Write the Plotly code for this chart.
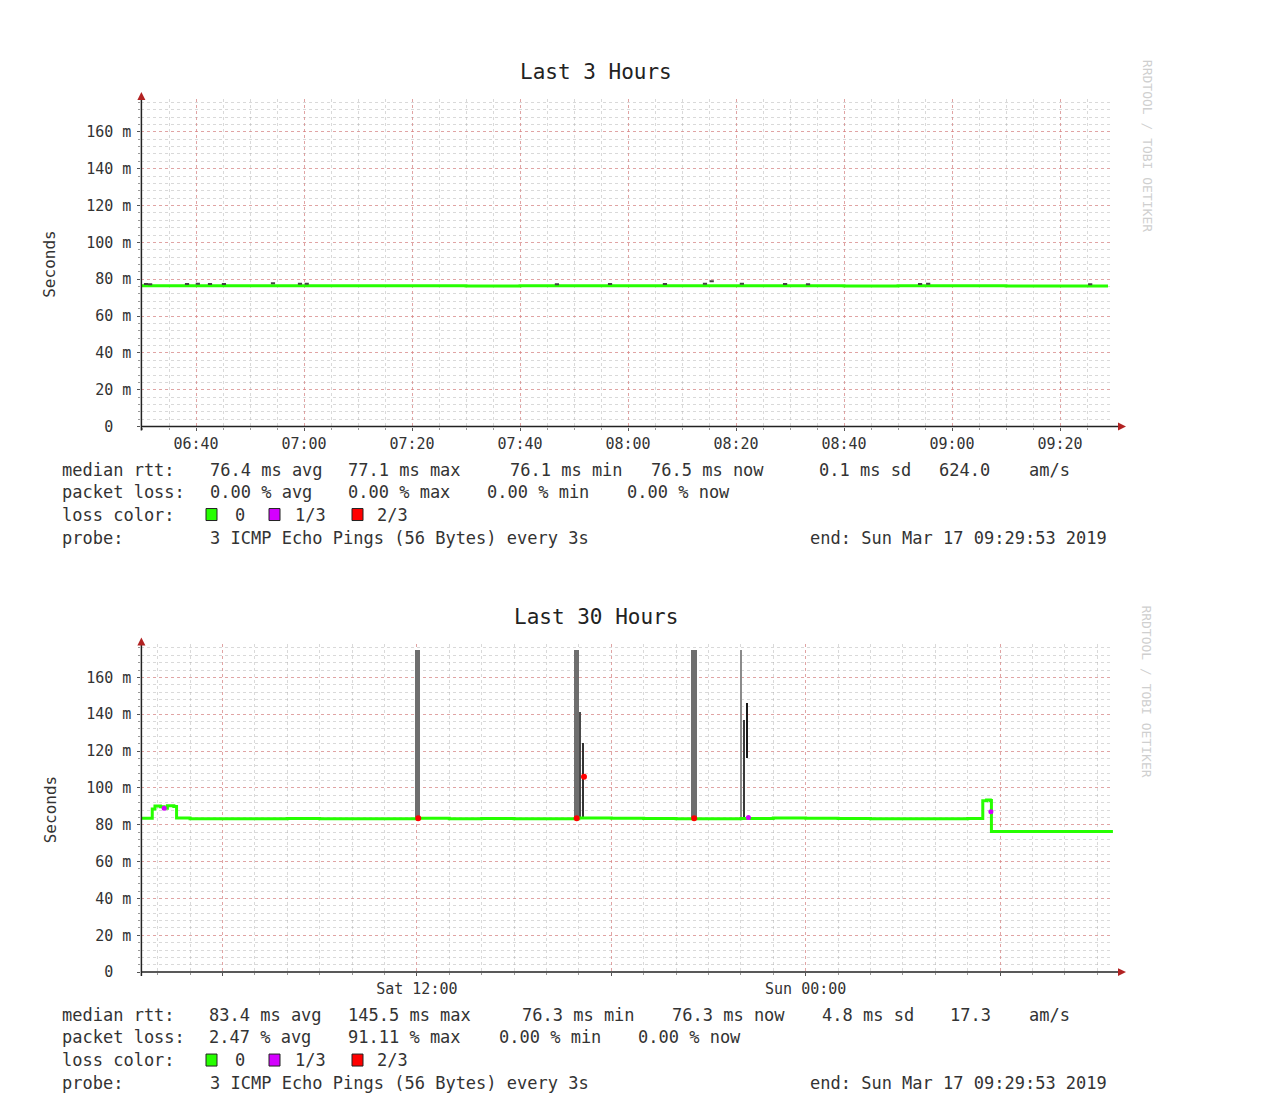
import plotly.graph_objects as go

# ---- data ----
# Last 3 Hours: median rtt (ms), step line
top_times = ["2019-03-17 06:29:53", "2019-03-17 06:40", "2019-03-17 06:50", "2019-03-17 07:00",
             "2019-03-17 07:10", "2019-03-17 07:20", "2019-03-17 07:30", "2019-03-17 07:40",
             "2019-03-17 07:50", "2019-03-17 08:00", "2019-03-17 08:10", "2019-03-17 08:20",
             "2019-03-17 08:30", "2019-03-17 08:40", "2019-03-17 08:50", "2019-03-17 09:00",
             "2019-03-17 09:10", "2019-03-17 09:20", "2019-03-17 09:28:53"]
top_rtt = [76.5, 76.4, 76.4, 76.5, 76.4, 76.4, 76.3, 76.4, 76.4, 76.4,
           76.5, 76.4, 76.4, 76.3, 76.4, 76.4, 76.3, 76.3, 76.3]

# small smoke marks just above the median line
top_smoke_times = ["2019-03-17 06:30:44", "2019-03-17 06:31:30", "2019-03-17 06:38:20",
                   "2019-03-17 06:40:20", "2019-03-17 06:42:35", "2019-03-17 06:45:10",
                   "2019-03-17 06:54:15", "2019-03-17 06:59:15", "2019-03-17 07:00:30",
                   "2019-03-17 07:46:50", "2019-03-17 07:56:40", "2019-03-17 08:06:50",
                   "2019-03-17 08:14:15", "2019-03-17 08:15:30", "2019-03-17 08:21:05",
                   "2019-03-17 08:29:05", "2019-03-17 08:33:20", "2019-03-17 08:54:05",
                   "2019-03-17 08:55:35", "2019-03-17 09:25:35"]
top_smoke = [77.4, 77.3, 77.4, 77.5, 77.4, 77.4, 77.8, 77.6, 77.5, 77.3,
             77.4, 77.4, 77.6, 78.9, 77.5, 77.4, 77.3, 77.4, 77.6, 77.3]

# Last 30 Hours: median rtt (ms), step line
bot_times = ["2019-03-16 03:29:53", "2019-03-16 03:45", "2019-03-16 03:50", "2019-03-16 03:55",
             "2019-03-16 04:05", "2019-03-16 04:12", "2019-03-16 04:18", "2019-03-16 04:30",
             "2019-03-16 04:35", "2019-03-16 05:00", "2019-03-16 06:00", "2019-03-16 07:00",
             "2019-03-16 08:00", "2019-03-16 09:00", "2019-03-16 10:00", "2019-03-16 11:00",
             "2019-03-16 12:00", "2019-03-16 13:00", "2019-03-16 14:00", "2019-03-16 15:00",
             "2019-03-16 16:00", "2019-03-16 17:00", "2019-03-16 18:00", "2019-03-16 19:00",
             "2019-03-16 20:00", "2019-03-16 21:00", "2019-03-16 22:00", "2019-03-16 23:00",
             "2019-03-17 00:00", "2019-03-17 01:00", "2019-03-17 02:00", "2019-03-17 03:00",
             "2019-03-17 04:00", "2019-03-17 05:00", "2019-03-17 05:27", "2019-03-17 05:28",
             "2019-03-17 05:35", "2019-03-17 05:42", "2019-03-17 05:44", "2019-03-17 06:00",
             "2019-03-17 07:00", "2019-03-17 08:00", "2019-03-17 09:00", "2019-03-17 09:29"]
bot_rtt = [83.5, 83.5, 88.6, 90.2, 89.8, 89.0, 90.3, 89.9, 83.6, 83.3, 83.2, 83.3,
           83.4, 83.2, 83.3, 83.3, 83.5, 83.3, 83.4, 83.2, 83.3, 83.6, 83.5, 83.4,
           83.3, 83.2, 83.4, 83.6, 83.5, 83.4, 83.3, 83.3, 83.2, 83.4, 83.4, 93.0,
           93.5, 93.2, 76.4, 76.3, 76.4, 76.3, 76.3, 76.3]

# smoke columns (tall ones run past the top of the graph)
spike_times = ["2019-03-16 12:02:30", "2019-03-16 16:56:00", "2019-03-16 17:03:00",
               "2019-03-16 17:08:30", "2019-03-16 20:33:30", "2019-03-16 22:02:00",
               "2019-03-16 22:06:30", "2019-03-16 22:12:00"]
spike_lo = [83.5, 83.5, 83.5, 83.5, 83.5, 83.5, 83.5, 116.0]
spike_hi = [175.0, 175.0, 141.0, 124.0, 175.0, 175.0, 137.0, 146.0]
spike_minutes = [9, 9, 4, 2, 10.5, 2.5, 2, 4]

# loss markers (2/3 = red, 1/3 = magenta)
loss23_times = ["2019-03-16 12:02:30", "2019-03-16 16:56:00", "2019-03-16 17:09:30",
                "2019-03-16 20:33:30"]
loss23_vals = [83.5, 83.5, 106.0, 83.5]
loss13_times = ["2019-03-16 04:12", "2019-03-16 22:14", "2019-03-17 05:43"]
loss13_vals = [89.0, 84.0, 87.0]

# ---- text ----
y_ticks = [0, 20, 40, 60, 80, 100, 120, 140, 160]
y_ticktext = ["0\u00a0\u00a0", "20 m", "40 m", "60 m", "80 m", "100 m", "120 m", "140 m", "160 m"]
top_ticks = ["2019-03-17 06:40", "2019-03-17 07:00", "2019-03-17 07:20", "2019-03-17 07:40",
             "2019-03-17 08:00", "2019-03-17 08:20", "2019-03-17 08:40", "2019-03-17 09:00",
             "2019-03-17 09:20"]
top_ticktext = ["06:40", "07:00", "07:20", "07:40", "08:00", "08:20", "08:40", "09:00", "09:20"]
bot_ticks = ["2019-03-16 06:00", "2019-03-16 12:00", "2019-03-16 18:00", "2019-03-17 00:00",
             "2019-03-17 06:00"]
bot_ticktext = ["", "Sat 12:00", "", "Sun 00:00", ""]

top_rtt_text = ["median rtt:", "76.4 ms avg", "77.1 ms max", "76.1 ms min", "76.5 ms now",
                "0.1 ms sd", "624.0", "am/s"]
top_loss_text = ["packet loss:", "0.00 % avg", "0.00 % max", "0.00 % min", "0.00 % now"]
bot_rtt_text = ["median rtt:", "83.4 ms avg", "145.5 ms max", "76.3 ms min", "76.3 ms now",
                "4.8 ms sd", "17.3", "am/s"]
bot_loss_text = ["packet loss:", "2.47 % avg", "91.11 % max", "0.00 % min", "0.00 % now"]
legend_text = ["loss color:", "0", "1/3", "2/3"]
probe_text = ["probe:", "3 ICMP Echo Pings (56 Bytes) every 3s", "end: Sun Mar 17 09:29:53 2019"]

# ---- layout helpers (pixel -> paper) ----
W = 1280
H = 1118      # figure height; the photo squeezes it to 1110
REF_H = 1110  # positions below are read in the 1110-high picture
def px(x):
    return x / W
def py(y):
    return 1 - y / REF_H

X0, X1 = 141.4, 1113.4
TOP = (98.8, 427.0)
BOT = (644.8, 973.0)
OFF = 546  # vertical offset of the second graph

GREEN = "#26ff00"
MAGENTA = "#d400ff"
RED = "#ff0000"
MONO = "DejaVu Sans Mono"
TXT = "#333333"
MAJ = "rgba(230,120,120,0.55)"
MIN = "rgba(170,170,170,0.45)"

fig = go.Figure()

# top graph
fig.add_trace(go.Scatter(x=top_times, y=top_rtt, mode="lines", line=dict(color=GREEN, width=3, shape="hv"),
                         xaxis="x", yaxis="y"))
fig.add_trace(go.Scatter(x=top_smoke_times, y=top_smoke, mode="markers",
                         marker=dict(symbol="line-ew", size=3, line=dict(color="#444", width=2)),
                         xaxis="x", yaxis="y"))

# bottom graph
fig.add_trace(go.Bar(x=spike_times, y=[h - l for h, l in zip(spike_hi, spike_lo)], base=spike_lo,
                     width=[m * 60000 for m in spike_minutes],
                     marker=dict(color=["#6e6e6e", "#6e6e6e", "#4a4a4a", "#333333", "#6e6e6e",
                                        "#8a8a8a", "#3a3a3a", "#1a1a1a"], line=dict(width=0)),
                     xaxis="x2", yaxis="y2"))
fig.add_trace(go.Scatter(x=bot_times, y=bot_rtt, mode="lines", line=dict(color=GREEN, width=3, shape="hv"),
                         xaxis="x2", yaxis="y2"))
fig.add_trace(go.Scatter(x=loss23_times, y=loss23_vals, mode="markers",
                         marker=dict(color=RED, size=6), xaxis="x2", yaxis="y2"))
fig.add_trace(go.Scatter(x=loss13_times, y=loss13_vals, mode="markers",
                         marker=dict(color=MAGENTA, size=5), xaxis="x2", yaxis="y2"))

yax = dict(range=[0, 178], tickvals=y_ticks, ticktext=y_ticktext, showgrid=True,
           gridcolor=MAJ, griddash="dot", gridwidth=1, zeroline=False, showline=False,
           ticks="outside", ticklen=3, tickcolor="#555", ticklabelstandoff=3,
           minor=dict(dtick=4, tick0=0, showgrid=True, gridcolor=MIN, griddash="dot",
                      ticks="outside", ticklen=2, tickcolor="#999"),
           tickfont=dict(family=MONO, size=15, color=TXT), fixedrange=True)

fig.update_layout(
    width=W, height=H, autosize=False,
    margin=dict(l=0, r=0, t=0, b=0),
    paper_bgcolor="white", plot_bgcolor="white",
    showlegend=False, bargap=0,
    xaxis=dict(domain=[px(X0), px(X1)], anchor="y",
               range=["2019-03-17 06:29:53", "2019-03-17 09:29:53"],
               tickvals=top_ticks, ticktext=top_ticktext, showgrid=True,
               gridcolor=MAJ, griddash="dot", zeroline=False, ticks="outside", ticklen=3,
               tickcolor="#555",
               minor=dict(dtick=300000, tick0="2019-03-17 06:35", showgrid=True, gridcolor=MIN,
                          griddash="dot", ticks="outside", ticklen=2, tickcolor="#999"),
               tickfont=dict(family=MONO, size=15, color=TXT)),
    yaxis=dict(domain=[py(TOP[1]), py(TOP[0])], anchor="x", **yax),
    xaxis2=dict(domain=[px(X0), px(X1)], anchor="y2",
                range=["2019-03-16 03:29:53", "2019-03-17 09:29:53"],
                tickvals=bot_ticks, ticktext=bot_ticktext, showgrid=True,
                gridcolor=MAJ, griddash="dot", zeroline=False, ticks="outside", ticklen=3,
                tickcolor="#555",
                minor=dict(dtick=3600000, tick0="2019-03-16 04:00", showgrid=True, gridcolor=MIN,
                           griddash="dot", ticks="outside", ticklen=2, tickcolor="#999"),
                tickfont=dict(family=MONO, size=15, color=TXT)),
    yaxis2=dict(domain=[py(BOT[1]), py(BOT[0])], anchor="x2", **yax),
)

shapes = []
annotations = []
for k, (ytop, ybot) in enumerate([TOP, BOT]):
    dy = k * OFF
    # axes with arrow heads
    shapes.append(dict(type="line", xref="paper", yref="paper", x0=px(X0), x1=px(1120),
                       y0=py(ybot), y1=py(ybot), line=dict(color="#222", width=1.5)))
    shapes.append(dict(type="line", xref="paper", yref="paper", x0=px(X0), x1=px(X0),
                       y0=py(ybot + 4), y1=py(99 + dy), line=dict(color="#222", width=1.5)))
    shapes.append(dict(type="path", xref="paper", yref="paper", fillcolor="#b22222", line=dict(width=0),
                       path="M %f,%f L %f,%f L %f,%f Z" % (px(1118), py(ybot - 4), px(1126), py(ybot),
                                                           px(1118), py(ybot + 4))))
    shapes.append(dict(type="path", xref="paper", yref="paper", fillcolor="#b22222", line=dict(width=0),
                       path="M %f,%f L %f,%f L %f,%f Z" % (px(X0 - 4), py(100 + dy), px(X0), py(92 + dy),
                                                           px(X0 + 4), py(100 + dy))))
    # legend colour boxes
    for bx, col in zip([206, 269, 352], [GREEN, MAGENTA, RED]):
        shapes.append(dict(type="rect", xref="paper", yref="paper", x0=px(bx), x1=px(bx + 11),
                           y0=py(521 + dy), y1=py(509 + dy), fillcolor=col,
                           line=dict(color="#222", width=1)))

    title = "Last 3 Hours" if k == 0 else "Last 30 Hours"
    annotations.append(dict(text=title, x=px(596), y=py(72 + dy), xref="paper", yref="paper",
                            showarrow=False, xanchor="center", yanchor="middle",
                            font=dict(family=MONO, size=21, color="#222")))
    annotations.append(dict(text="Seconds", x=px(50), y=py(265 + dy), xref="paper", yref="paper",
                            showarrow=False, textangle=-90, xanchor="center", yanchor="middle",
                            font=dict(family=MONO, size=16, color=TXT)))
    annotations.append(dict(text="RRDTOOL / TOBI OETIKER", x=px(1147), y=py(146 + dy), xref="paper",
                            yref="paper", showarrow=False, textangle=90, xanchor="center",
                            yanchor="middle", font=dict(family=MONO, size=13, color="#cfcfcf")))

    rtt_text = top_rtt_text if k == 0 else bot_rtt_text
    loss_text = top_loss_text if k == 0 else bot_loss_text
    rtt_x = [60, 208, 346, 508, 649, 817, 937, 1027] if k == 0 else [60, 207, 346, 520, 670, 820, 948, 1027]
    loss_x = [60, 208, 346, 485, 625] if k == 0 else [60, 207, 346, 497, 636]
    rows = [(rtt_text, rtt_x, 470), (loss_text, loss_x, 492),
            (legend_text, [60, 233, 293, 375], 515), (probe_text, [60, 208, 808], 538)]
    for texts, xs, yy in rows:
        for t, xx in zip(texts, xs):
            annotations.append(dict(text=t, x=px(xx), y=py(yy + dy), xref="paper", yref="paper",
                                    showarrow=False, xanchor="left", yanchor="middle",
                                    font=dict(family=MONO, size=17, color=TXT)))

fig.update_layout(shapes=shapes, annotations=annotations)

fig.write_html("out.html", config={"displayModeBar": False},
               post_script="document.body.style.margin='0px';")
